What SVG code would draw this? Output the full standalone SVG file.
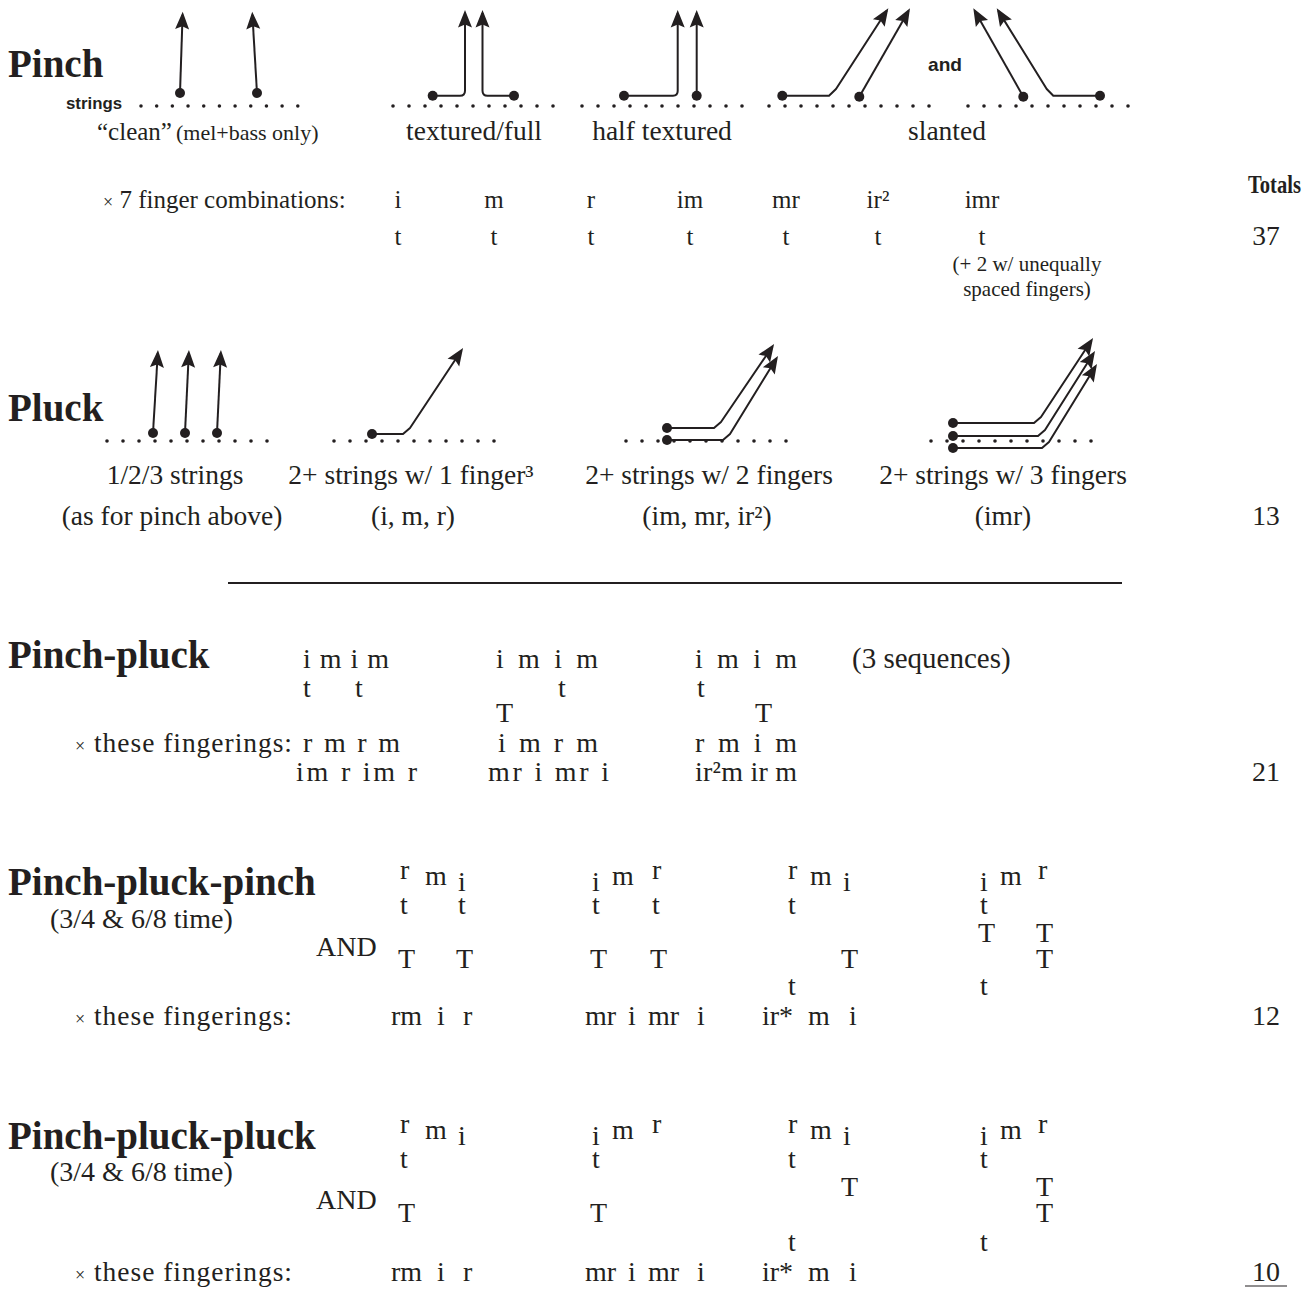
<svg xmlns="http://www.w3.org/2000/svg" width="1314" height="1296" viewBox="0 0 1314 1296">
  <defs>
    <marker id="ah" viewBox="-16 -8 20 16" refX="0" refY="0" markerWidth="20" markerHeight="16" markerUnits="userSpaceOnUse" orient="auto">
      <path d="M3,0 L-14.5,-7 L-11.5,0 L-14.5,7 Z" fill="#231f20"/>
    </marker>
    <style>
      text { fill: #231f20; font-family: "Liberation Serif", "Times New Roman", serif; }
      .title { font-weight: bold; font-size: 39px; }
      .cap { font-size: 27.5px; }
      .row { font-size: 25px; }
      .tm { font-size: 28px; }
      .sm { font-size: 21px; }
      .x { font-size: 18px; }
      .sans { font-family: "Liberation Sans", Arial, sans-serif; font-weight: bold; }
      .c { text-anchor: middle; }
      .str { fill: none; stroke: #231f20; stroke-width: 2; stroke-linejoin: round; marker-end: url(#ah); }
      .sd { fill: #231f20; }
      .bd { fill: #231f20; }
    </style>
    <!-- a row of 11 string dots, 16px apart -->
    <g id="row11">
      <circle class="sd" cx="0" cy="0" r="1.8"/><circle class="sd" cx="16" cy="0" r="1.8"/>
      <circle class="sd" cx="32" cy="0" r="1.8"/><circle class="sd" cx="48" cy="0" r="1.8"/>
      <circle class="sd" cx="64" cy="0" r="1.8"/><circle class="sd" cx="80" cy="0" r="1.8"/>
      <circle class="sd" cx="96" cy="0" r="1.8"/><circle class="sd" cx="112" cy="0" r="1.8"/>
      <circle class="sd" cx="128" cy="0" r="1.8"/><circle class="sd" cx="144" cy="0" r="1.8"/>
      <circle class="sd" cx="160" cy="0" r="1.8"/>
    </g>
  </defs>

  <rect width="1314" height="1296" fill="#ffffff"/>

  <!-- ===== Pinch ===== -->
  <g id="pinch">
    <text class="title" x="8" y="77">Pinch</text>
    <text class="sans" x="66" y="109" font-size="16" textLength="56" lengthAdjust="spacingAndGlyphs">strings</text>
    <text class="sans" x="928" y="71" font-size="19" textLength="34" lengthAdjust="spacingAndGlyphs">and</text>

    <g id="pinch-strings">
      <use href="#row11" transform="translate(141,106) scale(0.98,1)"/>
      <use href="#row11" x="393" y="106"/>
      <use href="#row11" x="582" y="106"/>
      <use href="#row11" x="769" y="106"/>
      <use href="#row11" x="968" y="106"/>
    </g>

    <g id="pinch-connectors">
      <path class="str" d="M180,93 L182.6,14.7"/>
      <path class="str" d="M257,93 L252.4,14.7"/>
      <path class="str" d="M432.7,95.7 H460 Q465,95.7 465,90.7 V13"/>
      <path class="str" d="M514,95.7 H487.5 Q482.5,95.7 482.5,90.7 V13"/>
      <path class="str" d="M624,95.7 H673 Q677.7,95.7 677.7,91 V13"/>
      <path class="str" d="M696.7,95.7 V13"/>
      <path class="str" d="M782.3,95.7 H829 L836,89 L886.7,10.8"/>
      <path class="str" d="M859.3,96.7 L908.5,10.9"/>
      <path class="str" d="M1023.3,96.7 L974.8,10.9"/>
      <path class="str" d="M1100,95.7 H1053.3 L1046.7,89 L998.3,10.9"/>
    </g>
    <g id="pinch-fingers">
      <circle class="bd" cx="180" cy="93" r="5"/>
      <circle class="bd" cx="257" cy="93" r="5"/>
      <circle class="bd" cx="432.7" cy="95.7" r="5"/>
      <circle class="bd" cx="514" cy="95.7" r="5"/>
      <circle class="bd" cx="624" cy="95.7" r="5"/>
      <circle class="bd" cx="696.7" cy="95.7" r="5"/>
      <circle class="bd" cx="782.3" cy="95.7" r="5"/>
      <circle class="bd" cx="859.3" cy="96.7" r="5"/>
      <circle class="bd" cx="1023.3" cy="96.7" r="5"/>
      <circle class="bd" cx="1100" cy="95.7" r="5"/>
    </g>

    <text x="97" y="140" font-size="25">“clean”</text>
    <text x="176" y="140" font-size="22">(mel+bass only)</text>
    <text class="cap c" x="474" y="140">textured/full</text>
    <text class="cap c" x="662" y="140">half textured</text>
    <text class="cap c" x="947" y="140">slanted</text>

    <text class="row" x="103" y="208"><tspan class="x">×</tspan> 7 finger combinations:</text>
    <g class="row c">
      <text x="398" y="208">i</text><text x="494" y="208">m</text><text x="591" y="208">r</text>
      <text x="690" y="208">im</text><text x="786" y="208">mr</text><text x="878" y="208">ir²</text>
      <text x="982" y="208">imr</text>
      <text x="398" y="245">t</text><text x="494" y="245">t</text><text x="591" y="245">t</text>
      <text x="690" y="245">t</text><text x="786" y="245">t</text><text x="878" y="245">t</text>
      <text x="982" y="245">t</text>
    </g>
    <text class="sm c" x="1027" y="271">(+ 2 w/ unequally</text>
    <text class="sm c" x="1027" y="296">spaced fingers)</text>
  </g>

  <!-- ===== Totals column ===== -->
  <g id="totals">
    <text x="1301" y="193" font-weight="bold" font-size="26" text-anchor="end" textLength="53" lengthAdjust="spacingAndGlyphs">Totals</text>
    <text class="cap c" x="1266" y="245">37</text>
    <text class="cap c" x="1266" y="525">13</text>
    <text class="tm c" x="1266" y="781">21</text>
    <text class="tm c" x="1266" y="1025">12</text>
    <text class="tm c" x="1266" y="1281">10</text>
    <line x1="1245" y1="1286" x2="1287" y2="1286" stroke="#231f20" stroke-width="1.2"/>
  </g>

  <!-- ===== Pluck ===== -->
  <g id="pluck">
    <text class="title" x="8" y="421">Pluck</text>
    <g id="pluck-strings">
      <use href="#row11" x="107" y="441"/>
      <use href="#row11" x="334" y="441"/>
      <use href="#row11" x="626" y="441"/>
      <use href="#row11" x="931" y="441"/>
    </g>
    <g id="pluck-connectors">
      <path class="str" d="M153,433 L157.8,353"/>
      <path class="str" d="M185,433 L188.8,353"/>
      <path class="str" d="M217,433 L220.8,353"/>
      <path class="str" d="M372,434 H403 L410,428 L461.4,350.5"/>
      <path class="str" d="M667,428 H714 L721,422 L772.4,346.5"/>
      <path class="str" d="M667,440 H723 L730,434 L776.4,358.5"/>
      <path class="str" d="M953,423 H1034 L1041,417 L1091.4,340.5"/>
      <path class="str" d="M953,436 H1038 L1045,430 L1093.4,353.5"/>
      <path class="str" d="M953,448 H1042 L1049,442 L1095.4,366.5"/>
    </g>
    <g id="pluck-fingers">
      <circle class="bd" cx="153" cy="433" r="5"/>
      <circle class="bd" cx="185" cy="433" r="5"/>
      <circle class="bd" cx="217" cy="433" r="5"/>
      <circle class="bd" cx="372" cy="434" r="5"/>
      <circle class="bd" cx="667" cy="428" r="5"/>
      <circle class="bd" cx="667" cy="440" r="5"/>
      <circle class="bd" cx="953" cy="423" r="5"/>
      <circle class="bd" cx="953" cy="436" r="5"/>
      <circle class="bd" cx="953" cy="448" r="5"/>
    </g>
    <g class="cap c">
      <text x="175" y="484">1/2/3 strings</text>
      <text x="411" y="484">2+ strings w/ 1 finger³</text>
      <text x="709" y="484">2+ strings w/ 2 fingers</text>
      <text x="1003" y="484">2+ strings w/ 3 fingers</text>
      <text x="172" y="525">(as for pinch above)</text>
      <text x="413" y="525">(i, m, r)</text>
      <text x="707" y="525">(im, mr, ir²)</text>
      <text x="1003" y="525">(imr)</text>
    </g>
  </g>

  <line id="divider" x1="228" y1="583" x2="1122" y2="583" stroke="#231f20" stroke-width="2"/>

  <!-- ===== Pinch-pluck ===== -->
  <g id="pinch-pluck">
    <text class="title" x="8" y="668">Pinch-pluck</text>
    <g class="tm">
      <text x="303" y="668" textLength="86">i m i m</text>
      <text x="496" y="668" textLength="102">i m i m</text>
      <text x="695" y="668" textLength="102">i m i m</text>
      <text x="852" y="668" font-size="29">(3 sequences)</text>
      <text x="303" y="697">t</text><text x="355" y="697">t</text>
      <text x="558" y="697">t</text>
      <text x="697" y="697">t</text>
      <text x="496" y="722">T</text>
      <text x="755" y="722">T</text>
      <text x="303" y="752" textLength="97">r m r m</text>
      <text x="498" y="752" textLength="100">i m r m</text>
      <text x="695" y="752" textLength="102">r m i m</text>
      <text x="296" y="781" textLength="121">im r im r</text>
      <text x="488" y="781" textLength="121">mr i mr i</text>
      <text x="695" y="781" textLength="102">ir²m ir m</text>
    </g>
    <text class="cap" x="75" y="752" textLength="217"><tspan class="x">×</tspan> these fingerings:</text>
  </g>

  <!-- ===== Pinch-pluck-pinch ===== -->
  <g id="pinch-pluck-pinch">
    <text class="title" x="8" y="895">Pinch-pluck-pinch</text>
    <g class="tm">
      <text x="50" y="928">(3/4 &amp; 6/8 time)</text>
      <text x="316" y="956">AND</text>
      <!-- staggered finger order -->
      <text x="400" y="879">r</text><text x="425" y="885">m</text><text x="458" y="891">i</text>
      <text x="592" y="891">i</text><text x="612" y="885">m</text><text x="652" y="879">r</text>
      <text x="788" y="879">r</text><text x="810" y="885">m</text><text x="843" y="891">i</text>
      <text x="980" y="891">i</text><text x="1000" y="885">m</text><text x="1038" y="879">r</text>
      <text x="400" y="914">t</text><text x="458" y="914">t</text>
      <text x="592" y="914">t</text><text x="652" y="914">t</text>
      <text x="788" y="914">t</text>
      <text x="980" y="914">t</text>
      <text x="978" y="942">T</text><text x="1036" y="942">T</text>
      <text x="398" y="968">T</text><text x="456" y="968">T</text>
      <text x="590" y="968">T</text><text x="650" y="968">T</text>
      <text x="841" y="968">T</text>
      <text x="1036" y="968">T</text>
      <text x="788" y="995">t</text>
      <text x="980" y="995">t</text>
      <!-- fingerings, spaced token by token -->
      <text x="391" y="1025">rm</text><text x="437" y="1025">i</text><text x="463" y="1025">r</text>
      <text x="585" y="1025">mr</text><text x="628" y="1025">i</text><text x="648" y="1025">mr</text><text x="697" y="1025">i</text>
      <text x="762" y="1025">ir*</text><text x="808" y="1025">m</text><text x="849" y="1025">i</text>
    </g>
    <text class="cap" x="75" y="1025" textLength="217"><tspan class="x">×</tspan> these fingerings:</text>
  </g>

  <!-- ===== Pinch-pluck-pluck ===== -->
  <g id="pinch-pluck-pluck">
    <text class="title" x="8" y="1149">Pinch-pluck-pluck</text>
    <g class="tm">
      <text x="50" y="1181">(3/4 &amp; 6/8 time)</text>
      <text x="316" y="1209">AND</text>
      <text x="400" y="1133">r</text><text x="425" y="1139">m</text><text x="458" y="1145">i</text>
      <text x="592" y="1145">i</text><text x="612" y="1139">m</text><text x="652" y="1133">r</text>
      <text x="788" y="1133">r</text><text x="810" y="1139">m</text><text x="843" y="1145">i</text>
      <text x="980" y="1145">i</text><text x="1000" y="1139">m</text><text x="1038" y="1133">r</text>
      <text x="400" y="1168">t</text>
      <text x="592" y="1168">t</text>
      <text x="788" y="1168">t</text>
      <text x="980" y="1168">t</text>
      <text x="841" y="1196">T</text>
      <text x="1036" y="1196">T</text>
      <text x="398" y="1222">T</text>
      <text x="590" y="1222">T</text>
      <text x="1036" y="1222">T</text>
      <text x="788" y="1251">t</text>
      <text x="980" y="1251">t</text>
      <text x="391" y="1281">rm</text><text x="437" y="1281">i</text><text x="463" y="1281">r</text>
      <text x="585" y="1281">mr</text><text x="628" y="1281">i</text><text x="648" y="1281">mr</text><text x="697" y="1281">i</text>
      <text x="762" y="1281">ir*</text><text x="808" y="1281">m</text><text x="849" y="1281">i</text>
    </g>
    <text class="cap" x="75" y="1281" textLength="217"><tspan class="x">×</tspan> these fingerings:</text>
  </g>
</svg>
